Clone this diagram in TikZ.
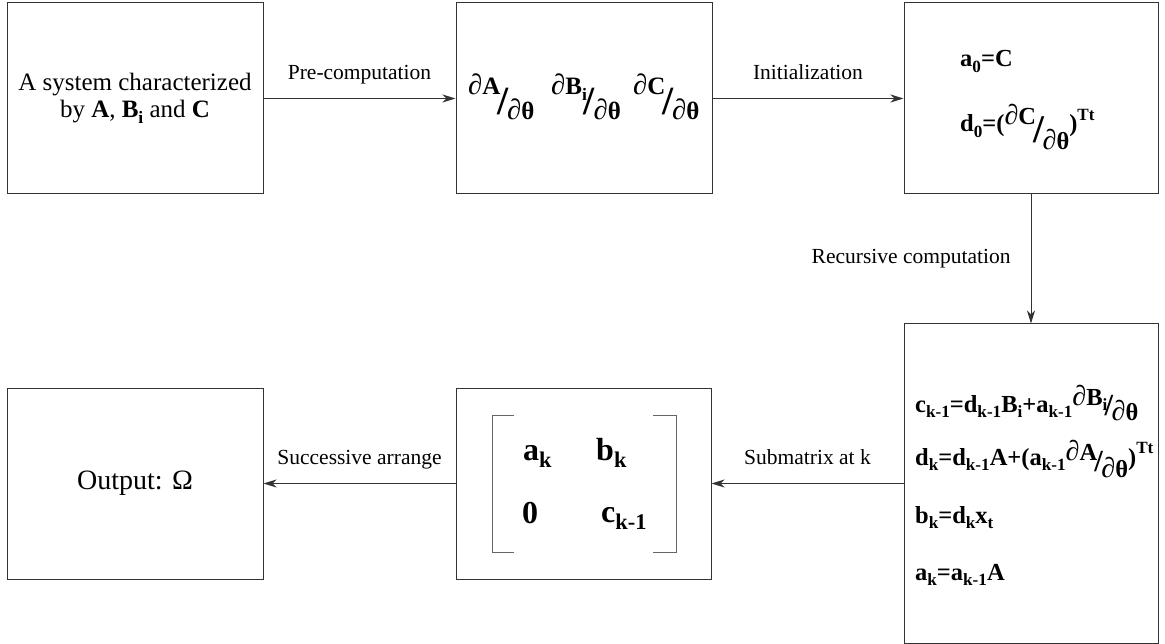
\documentclass[tikz,border=0pt]{standalone}
\usepackage{fontspec}
\setmainfont{Liberation Serif}
\usetikzlibrary{arrows.meta}
\newcommand\sbs[1]{\raisebox{-0.22em}{\scalebox{0.7}{#1}}}
\newcommand\sps[1]{\raisebox{0.45em}{\scalebox{0.7}{#1}}}
% #1 num, #2 den, #3 num raise, #4 den lower, #5 slash scale, #6 slash raise
\newcommand\frc[6]{\raisebox{#3}{#1}\kern-0.12em\raisebox{#6}{\scalebox{#5}{/}}\kern-0.06em\raisebox{-#4}{#2}}
\newcommand\pd{{\mdseries\scalebox{1.15}{∂}}}
\tikzset{
  box/.style={draw=black!80, line width=1pt, inner sep=0pt},
  arr/.style={draw=black!80, line width=1pt, -{Stealth[length=13pt,width=8pt,inset=4pt]}},
  lbl/.style={midway, anchor=base, yshift=19pt, inner sep=0pt, font=\fontsize{21.5}{24}\selectfont},
  txt/.style={anchor=base west, inner sep=0pt},
  eqf/.style={txt, font=\bfseries\fontsize{24.5}{28}\selectfont},
  frf/.style={txt, font=\bfseries\fontsize{25}{28}\selectfont},
  matf/.style={txt, font=\bfseries\fontsize{32}{36}\selectfont},
  brk/.style={draw=black!60, line width=1pt}
}
\begin{document}
\begin{tikzpicture}[x=1pt,y=-1pt]
\useasboundingbox (0,0) rectangle (1165,644);
% boxes
\node[box, minimum width=256pt, minimum height=191pt, align=center,
      font=\fontsize{25}{27}\selectfont] (b1) at (135,98.5)
      {A system characterized\\by \textbf{A}, \textbf{B}\sbs{\textbf{i}} and \textbf{C}};
\node[box, minimum width=256pt, minimum height=191pt] (b2) at (584,98.5) {};
\node[box, minimum width=254pt, minimum height=191pt] (b3) at (1031,98.5) {};
\node[box, minimum width=254pt, minimum height=319pt] (b4) at (1031,483.5) {};
\node[box, minimum width=255pt, minimum height=191pt] (b5) at (583.5,483.5) {};
\node[box, minimum width=256pt, minimum height=191pt,
      font=\fontsize{28}{30}\selectfont] (b6) at (135,483.5) {Output: Ω};
% box 2 contents
\node[frf] (f1) at (468,108) {\frc{\pd A}{\pd θ}{13pt}{12pt}{1.6}{-7pt}};
\node[frf] (f2) at (551,108) {\frc{\pd B\sbs{i}}{\pd θ}{13pt}{12pt}{1.6}{-7pt}};
\node[frf] (f3) at (633,108) {\frc{\pd C}{\pd θ}{13pt}{12pt}{1.6}{-7pt}};
% box 3 contents
\node[eqf] (e1) at (960,67) {a\sbs{0}=C};
\node[eqf] (e2) at (960,132) {d\sbs{0}=(\frc{\pd C}{\pd θ}{7pt}{18pt}{1.6}{-11pt})\sps{Tt}};
% box 4 contents
\node[eqf] (r1) at (915,412) {c\sbs{k-1}=d\sbs{k-1}B\sbs{i}+a\sbs{k-1}\frc{\pd B\sbs{i}}{\pd θ}{7pt}{9pt}{1.25}{-3pt}};
\node[eqf] (r2) at (915,465) {d\sbs{k}=d\sbs{k-1}A+(a\sbs{k-1}\frc{\pd A}{\pd θ}{5pt}{12pt}{1.25}{-6pt})\sps{Tt}};
\node[eqf] (r3) at (915,523) {b\sbs{k}=d\sbs{k}x\sbs{t}};
\node[eqf] (r4) at (915,580) {a\sbs{k}=a\sbs{k-1}A};
% matrix
\node[matf] (m11) at (523,460) {a\sbs{k}};
\node[matf] (m12) at (596,460) {b\sbs{k}};
\node[matf] (m21) at (522,523) {0};
\node[matf] (m22) at (601,522) {c\sbs{k-1}};
\draw[brk] (514,415) -- (492,415) -- (492,552) -- (514,552);
\draw[brk] (653,415) -- (676,415) -- (676,552) -- (653,552);
% connectors
\draw[arr] (b1.east) -- node[lbl] {Pre-computation} (b2.west);
\draw[arr] (b2.east) -- node[lbl] {Initialization} (b3.west);
\draw[arr] (b3.south) -- node[midway, anchor=east, xshift=-20pt, inner sep=0pt,
   font=\fontsize{21.5}{24}\selectfont] {Recursive computation} (b4.north);
\draw[arr] (b4.west) -- node[lbl] {Submatrix at k} (b5.east);
\draw[arr] (b5.west) -- node[lbl] {Successive arrange} (b6.east);
\end{tikzpicture}
\end{document}
